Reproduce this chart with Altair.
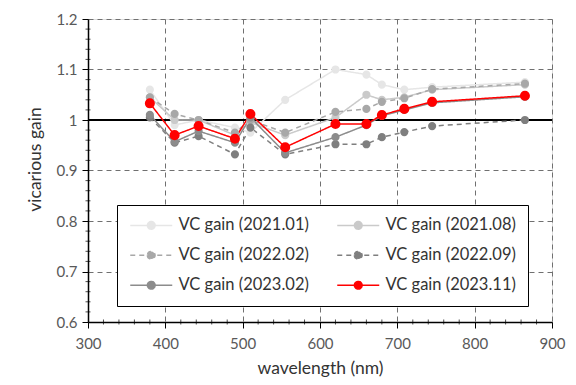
import altair as alt
import pandas as pd

wavelength = [380, 412, 443, 490, 510, 555, 620, 660, 680, 709, 745, 865]
series_names = ["VC gain (2021.01)", "VC gain (2021.08)", "VC gain (2022.02)",
                "VC gain (2022.09)", "VC gain (2023.02)", "VC gain (2023.11)"]
gain_2021_01 = [1.060, 0.990, 1.000, 0.985, 0.975, 1.040, 1.100, 1.090, 1.070, 1.060, 1.065, 1.075]
gain_2021_08 = [1.045, 1.000, 1.000, 0.970, 0.995, 0.970, 1.005, 1.050, 1.040, 1.045, 1.060, 1.070]
gain_2022_02 = [1.045, 1.012, 1.000, 0.975, 1.000, 0.975, 1.016, 1.022, 1.036, 1.043, 1.061, 1.072]
gain_2022_09 = [1.005, 0.955, 0.968, 0.932, 0.985, 0.932, 0.952, 0.952, 0.966, 0.976, 0.988, 1.000]
gain_2023_02 = [1.010, 0.957, 0.978, 0.955, 1.005, 0.935, 0.966, 0.990, 1.008, 1.020, 1.034, 1.046]
gain_2023_11 = [1.033, 0.970, 0.988, 0.963, 1.012, 0.946, 0.992, 0.992, 1.010, 1.022, 1.036, 1.048]
all_series = [gain_2021_01, gain_2021_08, gain_2022_02, gain_2022_09, gain_2023_02, gain_2023_11]

x_major = [300, 400, 500, 600, 700, 800, 900]
x_minor = [v for v in range(300, 901, 20) if v % 100 != 0]
y_major = [0.6, 0.7, 0.8, 0.9, 1.0, 1.1, 1.2]
y_minor = [round(0.6 + 0.02 * i, 2) for i in range(31) if i % 5 != 0]
ref_line = [1.0]

colors = ["#e6e6e6", "#cacaca", "#a8a8a8", "#7f7f7f", "#8c8c8c", "#ff0000"]
dashes = [[1, 0], [1, 0], [5, 4], [5, 4], [1, 0], [1, 0]]
widths = [1.5, 1.5, 1.5, 1.5, 1.5, 2.5]

rows = []
for name, vals in zip(series_names, all_series):
    for wl, v in zip(wavelength, vals):
        rows.append({"wavelength": wl, "gain": v, "series": name})
df = pd.DataFrame(rows)

font = "Lato"
legend = alt.Legend(
    title=None, orient="none", legendX=29, legendY=186, columns=2,
    direction="horizontal",
    symbolType="M-1,0H5M1.45,0A0.55,0.55,0,1,0,2.55,0A0.55,0.55,0,1,0,1.45,0",
    symbolSize=196, symbolStrokeWidth=1.5, labelOffset=33,
    rowPadding=13, columnPadding=25,
    labelFont=font, labelFontSize=16.5, labelColor="#333333", labelLimit=220,
    fillColor="white", strokeColor="black", padding=12, offset=0,
)

axis_common = dict(grid=True, gridDash=[5, 4], gridColor="#707070",
                   domainColor="black", domainWidth=1.5, tickColor="black", tickSize=6,
                   labelFont=font, labelColor="#595959",
                   titleFont=font, titleColor="#333333", titleFontWeight="normal",
                   labelOverlap=False, labelFlush=False)

x_enc = alt.X("wavelength:Q", scale=alt.Scale(domain=[300, 900], nice=False),
              axis=alt.Axis(title="wavelength (nm)", values=x_major, labelFontSize=15,
                            titleFontSize=17.5, labelPadding=8, titlePadding=8, **axis_common))
y_enc = alt.Y("gain:Q", scale=alt.Scale(domain=[0.6, 1.2], nice=False, zero=False),
              axis=alt.Axis(title="vicarious gain", values=y_major, format="~g", labelFontSize=15,
                            titleFontSize=17.5, labelPadding=5, titlePadding=12, titleY=140,
                            **axis_common))

stroke_enc = alt.Stroke("series:N", scale=alt.Scale(domain=series_names, range=colors), legend=legend)
fill_enc = alt.Fill("series:N", scale=alt.Scale(domain=series_names, range=colors), legend=legend)
dash_enc = alt.StrokeDash("series:N", scale=alt.Scale(domain=series_names, range=dashes), legend=legend)

lines = alt.Chart(df).mark_line().encode(
    x=x_enc, y=y_enc, stroke=stroke_enc, strokeDash=dash_enc,
    strokeWidth=alt.StrokeWidth("series:N", scale=alt.Scale(domain=series_names, range=widths), legend=None),
    order="wavelength:Q",
)
points = alt.Chart(df).mark_point(filled=True, opacity=1, size=38).encode(
    x="wavelength:Q", y="gain:Q", stroke=stroke_enc, fill=fill_enc,
).transform_filter(alt.datum.series != series_names[-1])
points_red = alt.Chart(df).mark_point(filled=True, opacity=1, size=65).encode(
    x="wavelength:Q", y="gain:Q", stroke=stroke_enc, fill=fill_enc,
).transform_filter(alt.datum.series == series_names[-1])

ref = alt.Chart(pd.DataFrame({"gain": ref_line})).mark_rule(color="black", strokeWidth=2).encode(y="gain:Q")

xminor = alt.Chart(pd.DataFrame({"wavelength": x_minor, "gain": [0.6] * len(x_minor)})).mark_tick(
    orient="vertical", color="black", size=5, thickness=1).encode(x="wavelength:Q", y="gain:Q")
yminor = alt.Chart(pd.DataFrame({"wavelength": [300] * len(y_minor), "gain": y_minor})).mark_tick(
    orient="horizontal", color="black", size=5, thickness=1).encode(x="wavelength:Q", y="gain:Q")

chart = alt.layer(ref, lines, points, points_red, xminor, yminor).properties(
    width=464, height=303,
    autosize=alt.AutoSizeParams(type="none"),
    padding={"left": 88, "top": 19, "right": 24, "bottom": 63},
).configure_view(stroke="black", strokeWidth=1.5).configure(background="white")

chart.save("out.html", embed_options={"renderer": "svg", "actions": False})
